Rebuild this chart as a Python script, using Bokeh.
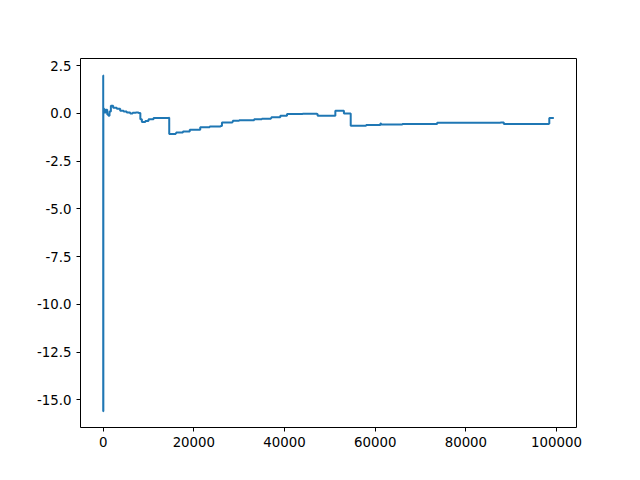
from bokeh.plotting import figure
from bokeh.models import FixedTicker, CustomJSTickFormatter
from bokeh.embed import file_html
from bokeh.resources import INLINE

# running value (x = sample index)
xs = [0, 10, 25, 40, 70, 300, 600, 900, 1170, 1400, 1700, 2200, 3000, 3750, 4500,
      5200, 5960, 6500, 7200, 7800, 8200, 8540, 9300, 10000, 11110, 12500, 14500,
      14570, 16000, 16100, 17500, 17600, 19000, 19100, 21410, 23500, 25900, 26200,
      28500, 28600, 30000, 33180, 33300, 35000, 37000, 37100, 39070, 40550, 44000,
      47170, 47300, 51000, 51210, 53050, 53100, 54530, 54600, 58000, 61150, 61300,
      66000, 73660, 80000, 87640, 88370, 93000, 98300, 98400, 99400]
ys = [2.0, -15.6, -15.6, 0.3, 0.23, 0.05, 0.2, -0.05, -0.12, 0.1, 0.4, 0.3, 0.25,
      0.14, 0.1, 0.05, 0.0, 0.04, 0.05, 0.02, -0.3, -0.44, -0.4, -0.3, -0.24,
      -0.24, -0.22, -1.08, -1.05, -1.0, -1.0, -0.95, -0.95, -0.85, -0.72, -0.68,
      -0.65, -0.47, -0.45, -0.38, -0.35, -0.35, -0.3, -0.28, -0.25, -0.2, -0.12,
      -0.03, -0.02, -0.03, -0.12, -0.12, 0.14, 0.14, 0.0, 0.0, -0.64, -0.6, -0.52,
      -0.58, -0.55, -0.49, -0.48, -0.47, -0.55, -0.55, -0.54, -0.24, -0.24]

x_ticks = [0, 20000, 40000, 60000, 80000, 100000]
y_ticks = [2.5, 0.0, -2.5, -5.0, -7.5, -10.0, -12.5, -15.0]

p = figure(width=624, height=464, output_backend="svg", toolbar_location=None,
           x_range=(-5000, 104400), y_range=(-16.45, 2.88),
           min_border_left=80, min_border_right=48, min_border_top=58,
           min_border_bottom=37)

p.step(xs, ys, mode="after", line_color="#1f77b4", line_width=2)

p.xgrid.visible = False
p.ygrid.visible = False
p.outline_line_color = "black"
p.outline_line_alpha = 1.0

p.xaxis.ticker = FixedTicker(ticks=x_ticks)
p.yaxis.ticker = FixedTicker(ticks=y_ticks)
p.yaxis.formatter = CustomJSTickFormatter(code="return tick.toFixed(1)")
p.xaxis.formatter = CustomJSTickFormatter(code="return tick.toFixed(0)")
for ax in (p.xaxis, p.yaxis):
    ax.axis_line_color = None
    ax.minor_tick_line_color = None
    ax.major_tick_in = 0
    ax.major_tick_out = 4
    ax.major_label_text_font = "DejaVu Sans"
    ax.major_label_text_font_size = "10pt"
    ax.major_label_text_color = "black"

open("out.html", "w").write(file_html(p, INLINE))
